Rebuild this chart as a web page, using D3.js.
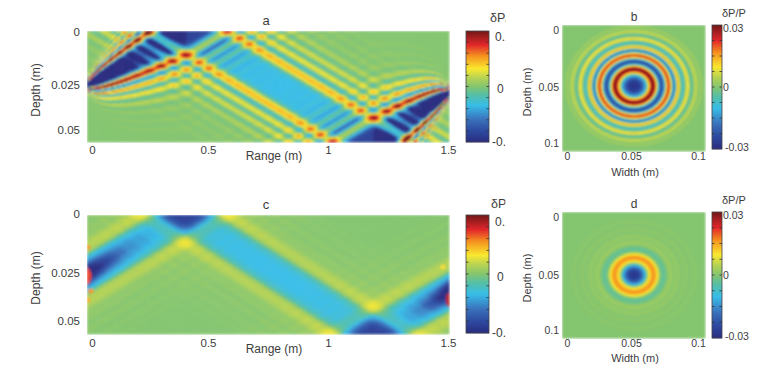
<!DOCTYPE html>
<html>
<head>
<meta charset="utf-8">
<script src="https://cdn.jsdelivr.net/npm/d3@7"></script>
<style>
  html, body { margin: 0; padding: 0; background: #fff; }
  svg { display: block; }
  text { font-family: "Liberation Sans", Arial, sans-serif; fill: #3d3d3d; }
</style>
</head>
<body>
<svg id="chart" width="774" height="369"></svg>
<script>
// values below are fractions of each panel's colour limit

// fringe profile across a beam: offset from beam centre (px along range) -> value
const fringeOffset = [0, 5, 10, 15, 20, 25, 30, 35, 40, 45, 50, 55, 60, 65, 70, 75, 80, 85, 90, 95, 100, 105, 110, 115, 120, 125, 130, 135, 140, 145, 150, 155, 160, 165, 170, 175, 180];
const fringeA = [-.34, -.34, -.34, -.34, -.33, -.28, -.08, .28, .47, .34, -.12, -.27, .10, .32, .08, -.20, .10, .25, .02, -.12, .04, .14, .02, -.05, .01, .05, .01, -.02, .01, .03, 0, -.01, .01, .02, 0, 0, 0];
const fringeC = [-.34, -.34, -.34, -.32, -.28, -.22, -.10, .08, .14, .15, .13, .08, .03, .03, .04, .02, 0, .02, .03, .01, 0, .01, .02, .01, 0, .01, .01, 0, 0, 0, 0, 0, 0, 0, 0, 0, 0];

// ring profile of the round panels: radius (px along width) -> value
const ringRadiusB = [0, 5, 9, 12, 15, 18, 21, 24, 27, 30, 33, 35, 37, 40, 42, 44, 46, 49, 52, 54, 56, 58, 60, 62, 65, 67, 70, 74];
const ringB = [-.95, -.9, -.65, -.3, .4, .98, .85, -.1, -.88, -.5, .55, .82, .3, -.7, -.1, .55, .1, -.3, .12, .38, -.02, -.15, .08, .2, 0, .08, 0, 0];
const ringRadiusD = [0, 5, 8, 11, 13, 15, 18, 20, 22, 24, 26, 29, 32, 36, 40, 44, 48, 52, 56, 60, 66, 74];
const ringD = [-.95, -.85, -.65, -.35, 0, .3, .5, .56, .44, .27, .02, -.13, -.05, .08, .02, .05, 0, .03, 0, .02, 0, 0];

// spots on the edges of panel c: range px, depth px, radii, value
const spotsC = [
    [0, 61, 4, 9, .7], [362, 85, 3, 7, .85],
    [1, 32, 2.5, 2.5, .55], [4, 76, 2.5, 2.5, .55], [1, 85, 2, 2.5, .5], [356, 52, 2.5, 2.5, .35]
];

// tick labels
const rangeTicks = [0, 0.5, 1, 1.5];
const depthTicksWide = [0, 0.025, 0.05];
const squareTicks = [0, 0.05, 0.1];

// print version of the jet colour map
const colourStops = [-1, -.8, -.6, -.34, -.15, 0, .15, .32, .55, .75, 1];
const colourValues = ['#2a2c80', '#2c4aa0', '#3a70ba', '#38bde8', '#55bfa5', '#84c56f', '#b4d254', '#f9e82f', '#f5921f', '#e2262a', '#701818'];

const colour = d3.scaleLinear().domain(colourStops).range(colourValues).clamp(true);
const svg = d3.select('#chart');

const defs = svg.append('defs');
defs.append('filter').attr('id', 'soft')
    .attr('x', 0).attr('y', 0).attr('width', 1).attr('height', 1)
    .append('feGaussianBlur').attr('stdDeviation', 0.8);

function drawCells(box, field, size) {
    const cols = d3.range(Math.round(box.w / size));
    const rows = d3.range(Math.round(box.h / size));
    const x = d3.scaleBand().domain(cols).range([box.x, box.x + box.w]);
    const y = d3.scaleBand().domain(rows).range([box.y, box.y + box.h]);
    const cells = d3.cross(cols, rows);
    const half = x.bandwidth() / 2;
    svg.append('g').attr('filter', 'url(#soft)')
        .selectAll('rect').data(cells).enter().append('rect')
        .attr('x', d => x(d[0]))
        .attr('y', d => y(d[1]))
        .attr('width', x.bandwidth() + 0.4)
        .attr('height', y.bandwidth() + 0.4)
        .attr('fill', d => colour(field(x(d[0]) - box.x + half, y(d[1]) - box.y + half)));
}

// one beam from a top spot to a bottom spot, plus the two arms to the sources
function beamField(box, beam, profile, spots) {
    const fringe = d3.scaleLinear().domain(fringeOffset).range(profile).clamp(true);
    const slope = (beam.bottom - beam.top) / box.h;
    const arm = (u, v, apex, source) => {
        if (u >= apex) return fringe(Math.abs(u - apex + slope * v));
        const centre = source * (1 - u / apex);
        const fan = Math.pow(apex / Math.max(u, 3), beam.fan);
        const offset = Math.abs(slope * (v - centre) * fan);
        // the arms get stronger towards the source, mostly near their centre
        const gain = 1 + beam.gain * Math.pow(1 - u / apex, beam.gainPow) * Math.max(0, 1 - offset / beam.gainReach);
        return gain * fringe(offset);
    };
    return (u, v) => {
        let val = fringe(Math.abs(u - beam.top - slope * v));
        val += arm(u, v, beam.top, beam.sourceLeft);
        val += arm(box.w - u, box.h - v, box.w - beam.bottom, beam.sourceRight);
        // where the beams overlap the troughs go deeper than the plain sum
        if (val < -.5) val = -.5 + (val + .5) * 2;
        (spots || []).forEach(s => {
            const r = ((u - s[0]) / s[2]) ** 2 + ((v - s[1]) / s[3]) ** 2;
            if (r < 1) val = s[4];
        });
        return val;
    };
}

function ringField(box, radius, values) {
    const ring = d3.scaleLinear().domain(radius).range(values).clamp(true);
    const squash = box.w / box.h;
    return (u, v) => ring(Math.hypot(u - box.cx, (v - box.cy) * squash));
}

function drawColourBar(box, labels, title, opts) {
    const value = d3.scaleLinear().domain([box.y + box.h, box.y]).range([-1, 1]);
    const steps = d3.range(box.y, box.y + box.h, 1);
    const g = svg.append('g');
    g.selectAll('rect').data(steps).enter().append('rect')
        .attr('x', box.x).attr('y', d => d)
        .attr('width', box.w).attr('height', 1.3)
        .attr('fill', d => colour(value(d + 0.5)));
    g.append('rect')
        .attr('x', box.x).attr('y', box.y)
        .attr('width', box.w).attr('height', box.h)
        .attr('fill', 'none').attr('stroke', '#444').attr('stroke-width', 0.8);
    const tickY = d3.scaleLinear().domain([0, opts.intervals]).range([box.y, box.y + box.h]);
    d3.range(1, opts.intervals).forEach(i => {
        [[box.x, box.x + 2.5], [box.x + box.w - 2.5, box.x + box.w]].forEach(e => {
            g.append('line')
                .attr('x1', e[0]).attr('x2', e[1])
                .attr('y1', tickY(i)).attr('y2', tickY(i))
                .attr('stroke', '#333').attr('stroke-width', 0.8);
        });
    });
    const t = svg.append('g');
    if (opts.clip) t.attr('clip-path', 'url(#' + opts.clip + ')');
    labels.forEach(l => {
        t.append('text').attr('x', l[1]).attr('y', l[2]).attr('dy', '0.35em')
            .style('font-size', opts.size + 'px').text(l[0]);
    });
    t.append('text').attr('x', title[1]).attr('y', title[2]).attr('dy', '0.35em')
        .style('font-size', opts.size + 0.5 + 'px').text(title[0]);
}

function drawAxes(o) {
    const x = d3.scaleLinear().domain(o.xTicks).range(o.xPos);
    const y = d3.scaleLinear().domain(o.yTicks).range(o.yPos);
    const gx = svg.append('g').attr('transform', `translate(0,${o.xAxisY})`)
        .call(d3.axisBottom(x).tickValues(o.xTicks).tickSize(0).tickPadding(0).tickFormat(d => String(d)));
    const gy = svg.append('g').attr('transform', `translate(${o.yAxisX},0)`)
        .call(d3.axisLeft(y).tickValues(o.yTicks).tickSize(0).tickPadding(0).tickFormat(d => String(d)));
    [gx, gy].forEach(g => {
        g.select('.domain').remove();
        g.selectAll('text').style('font-size', o.size + 'px')
            .style('font-family', '"Liberation Sans", Arial, sans-serif').attr('fill', '#3d3d3d');
    });
    const label = (txt, px, py, rotate, size) => svg.append('text')
        .attr('transform', `translate(${px},${py})` + (rotate ? ' rotate(-90)' : ''))
        .attr('text-anchor', 'middle').attr('dy', '0.35em')
        .style('font-size', size + 'px').text(txt);
    label(o.xLabel, o.xLabelPos[0], o.xLabelPos[1], false, o.size + 0.5);
    label(o.yLabel, o.yLabelPos[0], o.yLabelPos[1], true, o.size + 0.5);
    label(o.title, o.titlePos[0], o.titlePos[1], false, o.size + 1.5);
}

defs.append('clipPath').attr('id', 'cutA').append('rect')
    .attr('x', 485).attr('y', 0).attr('width', 20.5).attr('height', 369);

// panel a
const boxA = { x: 87, y: 31, w: 362, h: 111 };
drawCells(boxA, beamField(boxA,
    { top: 100, bottom: 286, sourceLeft: 54, sourceRight: 49, fan: 0.45, gain: 2, gainPow: 0.5, gainReach: 130 }, fringeA), 1.5);
drawColourBar({ x: 466, y: 31, w: 23, h: 111 },
    [['0.1', 495, 37], ['0', 497, 89], ['-0.1', 492, 142]], ['δP/P', 490, 18],
    { intervals: 10, size: 12, clip: 'cutA' });
drawAxes({
    xTicks: rangeTicks, xPos: [92, 208, 328, 448], xAxisY: 146,
    yTicks: depthTicksWide, yPos: [32, 85, 130], yAxisX: 80,
    xLabel: 'Range (m)', xLabelPos: [274, 156], yLabel: 'Depth (m)', yLabelPos: [36, 90],
    title: 'a', titlePos: [266, 20], size: 11.5
});

// panel c
const boxC = { x: 87, y: 215, w: 362, h: 119 };
drawCells(boxC, beamField(boxC,
    { top: 98, bottom: 286, sourceLeft: 59, sourceRight: 42, fan: 0, gain: 1.6, gainPow: 2, gainReach: 40 }, fringeC, spotsC), 1.5);
drawColourBar({ x: 466, y: 215, w: 23, h: 118 },
    [['0.1', 495, 222], ['0', 497, 277], ['-0.1', 492, 333]], ['δP/P', 491, 204],
    { intervals: 10, size: 12, clip: 'cutA' });
drawAxes({
    xTicks: rangeTicks, xPos: [92, 208, 328, 448], xAxisY: 339,
    yTicks: depthTicksWide, yPos: [214, 273, 321], yAxisX: 80,
    xLabel: 'Range (m)', xLabelPos: [274, 349], yLabel: 'Depth (m)', yLabelPos: [36, 278],
    title: 'c', titlePos: [266, 204], size: 11.5
});

// panel b
const boxB = { x: 562, y: 25, w: 143, h: 126, cx: 72, cy: 61 };
drawCells(boxB, ringField(boxB, ringRadiusB, ringB), 1);
drawColourBar({ x: 712, y: 25, w: 10, h: 124 },
    [['0.03', 723, 28], ['0', 723, 87], ['-0.03', 725, 147]], ['δP/P', 722, 13],
    { intervals: 8, size: 10.5 });
drawAxes({
    xTicks: squareTicks, xPos: [567, 631, 698], xAxisY: 153,
    yTicks: squareTicks, yPos: [30, 87, 143], yAxisX: 559,
    xLabel: 'Width (m)', xLabelPos: [635, 172], yLabel: 'Depth (m)', yLabelPos: [527, 92],
    title: 'b', titlePos: [634, 17], size: 10.5
});

// panel d
const boxD = { x: 562, y: 212, w: 143, h: 126, cx: 72, cy: 63 };
drawCells(boxD, ringField(boxD, ringRadiusD, ringD), 1);
drawColourBar({ x: 712, y: 212, w: 10, h: 126 },
    [['0.03', 723, 215], ['0', 723, 275], ['-0.03', 725, 336]], ['δP/P', 722, 200],
    { intervals: 8, size: 10.5 });
drawAxes({
    xTicks: squareTicks, xPos: [567, 631, 698], xAxisY: 340,
    yTicks: squareTicks, yPos: [217, 275, 330], yAxisX: 559,
    xLabel: 'Width (m)', xLabelPos: [635, 358], yLabel: 'Depth (m)', yLabelPos: [527, 278],
    title: 'd', titlePos: [634, 204], size: 10.5
});
</script>
</body>
</html>
